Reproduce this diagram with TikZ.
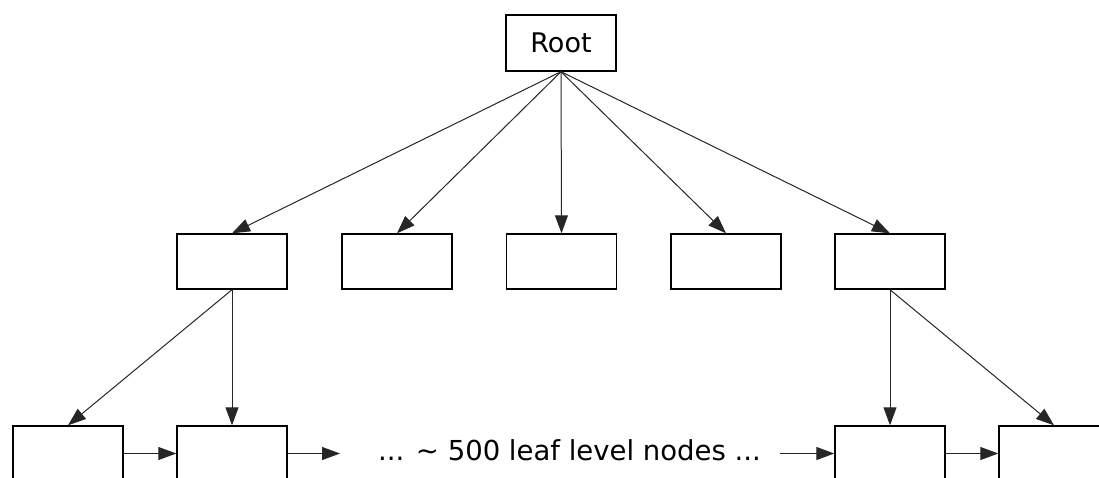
\documentclass[tikz,border=0pt]{standalone}
\usepackage{fontspec}
\setmainfont{DejaVu Sans}
\usetikzlibrary{arrows.meta}
\begin{document}
\begin{tikzpicture}[x=1pt,y=-1pt,
  box/.style={draw=black,line width=1.4pt,fill=white,inner sep=0pt,minimum width=110pt,minimum height=55pt,font=\fontsize{27}{31}\selectfont},
  conn/.style={draw=black!85,line width=1pt,-{Triangle[length=18pt,width=13pt]}},
  lbl/.style={inner sep=0pt,font=\fontsize{27.5}{32}\selectfont}]
\useasboundingbox (0,0) rectangle (1099,477);
\node[box,minimum height=56pt] (root) at (561,43) {Root};
\node[box] (m1) at (232,261.5) {};
\node[box] (m2) at (397,261.5) {};
\node[box] (m3) at (561.5,261.5) {};
\node[box] (m4) at (726,261.5) {};
\node[box] (m5) at (890,261.5) {};
\node[box] (l1) at (68,453.5) {};
\node[box] (l2) at (232,453.5) {};
\node[box] (l3) at (890,453.5) {};
\node[box] (l4) at (1054,453.5) {};
\node[lbl] (txt) at (569.5,450.5) {... \char"223C{} 500 leaf level nodes ...};
\coordinate (ta) at (340,453.5);
\coordinate (tb) at (780,453.5);
\foreach \m in {m1,m2,m3,m4,m5} \draw[conn] (root.south) -- (\m.north);
\draw[conn] (m1.south) -- (l1.north);
\draw[conn] (m1.south) -- (l2.north);
\draw[conn] (m5.south) -- (l3.north);
\draw[conn] (m5.south) -- (l4.north);
\draw[conn] (l1.east) -- (l2.west);
\draw[conn] (l2.east) -- (ta);
\draw[conn] (tb) -- (l3.west);
\draw[conn] (l3.east) -- (l4.west);
\end{tikzpicture}
\end{document}
